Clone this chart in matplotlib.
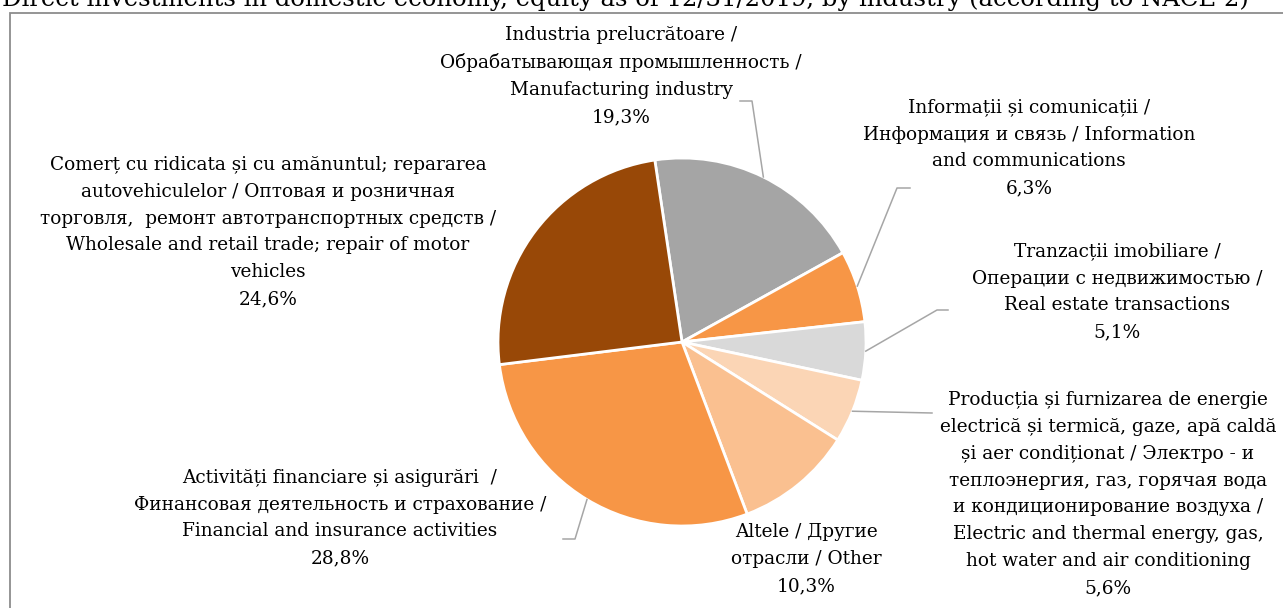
import matplotlib
matplotlib.use('Agg')
import matplotlib.pyplot as plt
import numpy as np

W, H = 1283, 608

# ---- data ----
categories = [
    "Industria prelucrătoare /\nОбрабатывающая промышленность /\nManufacturing industry",
    "Informații și comunicații /\nИнформация и связь / Information\nand communications",
    "Tranzacții imobiliare /\nОперации с недвижимостью /\nReal estate transactions",
    "Producția și furnizarea de energie\nelectrică și termică, gaze, apă caldă\nși aer condiționat / Электро - и\nтеплоэнергия, газ, горячая вода\nи кондиционирование воздуха /\nElectric and thermal energy, gas,\nhot water and air conditioning",
    "Altele / Другие\nотрасли / Other",
    "Activități financiare și asigurări  /\nФинансовая деятельность и страхование /\nFinancial and insurance activities",
    "Comerț cu ridicata și cu amănuntul; repararea\nautovehiculelor / Оптовая и розничная\nторговля,  ремонт автотранспортных средств /\nWholesale and retail trade; repair of motor\nvehicles",
]
values = [19.3, 6.3, 5.1, 5.6, 10.3, 28.8, 24.6]
colors = ["#A5A5A5", "#F79646", "#D9D9D9", "#FBD5B5", "#FAC090", "#F79646", "#984807"]
title = "Direct investments in domestic economy, equity as of 12/31/2019, by industry (according to NACE 2)"

# ---- layout (pixels, y from top) ----
label_pos = [(621, 76), (1029, 148), (1117, 292), (1108, 494), (806, 559), (340, 518), (268, 232)]
# leader: list of points after the wedge edge point (None = no leader)
leaders = [
    [(752, 101), (740, 101)],
    [(897, 188), (910, 188)],
    [(937, 310), (948, 310)],
    [(932, 413)],
    None,
    [(575, 539), (563, 539)],
    None,
]

FONT = "DejaVu Serif"
FS = 13.3

fig = plt.figure(figsize=(W / 100, H / 100), dpi=100)
ax = fig.add_axes([0, 0, 1, 1])

def Y(y):
    return H - y

cx, cy, R = 682, Y(342), 184
start = 98.5
wedges, _ = ax.pie(values, colors=colors, startangle=start, counterclock=False,
                   center=(cx, cy), radius=R, frame=True,
                   wedgeprops=dict(edgecolor="white", linewidth=2.0))
ax.set_xlim(0, W)
ax.set_ylim(0, H)
ax.set_aspect("equal")
ax.axis("off")

# frame
ax.plot([10, 10, W + 5], [Y(H + 5), Y(13), Y(13)], color="#8C8C8C", lw=1.3,
        solid_joinstyle="miter", clip_on=False)

# title (partly cut off at top as in reference)
fig.text(625 / W, 1 - 6 / H, title, ha="center", va="baseline", fontsize=17.5,
         family=FONT, color="black")

for w, lab, v, (lx, ly), ld in zip(wedges, categories, values, label_pos, leaders):
    txt = lab + "\n" + f"{v:.1f}".replace(".", ",") + "%"
    ax.text(lx, Y(ly), txt, ha="center", va="center", fontsize=FS, family=FONT,
            linespacing=1.64, color="black")
    if ld is not None:
        th = np.deg2rad((w.theta1 + w.theta2) / 2)
        x0, y0 = cx + R * np.cos(th), cy + R * np.sin(th)
        xs = [x0] + [p[0] for p in ld]
        ys = [y0] + [Y(p[1]) for p in ld]
        ax.plot(xs, ys, color="#A6A6A6", lw=1.1)

fig.savefig("out.png", dpi=100)
